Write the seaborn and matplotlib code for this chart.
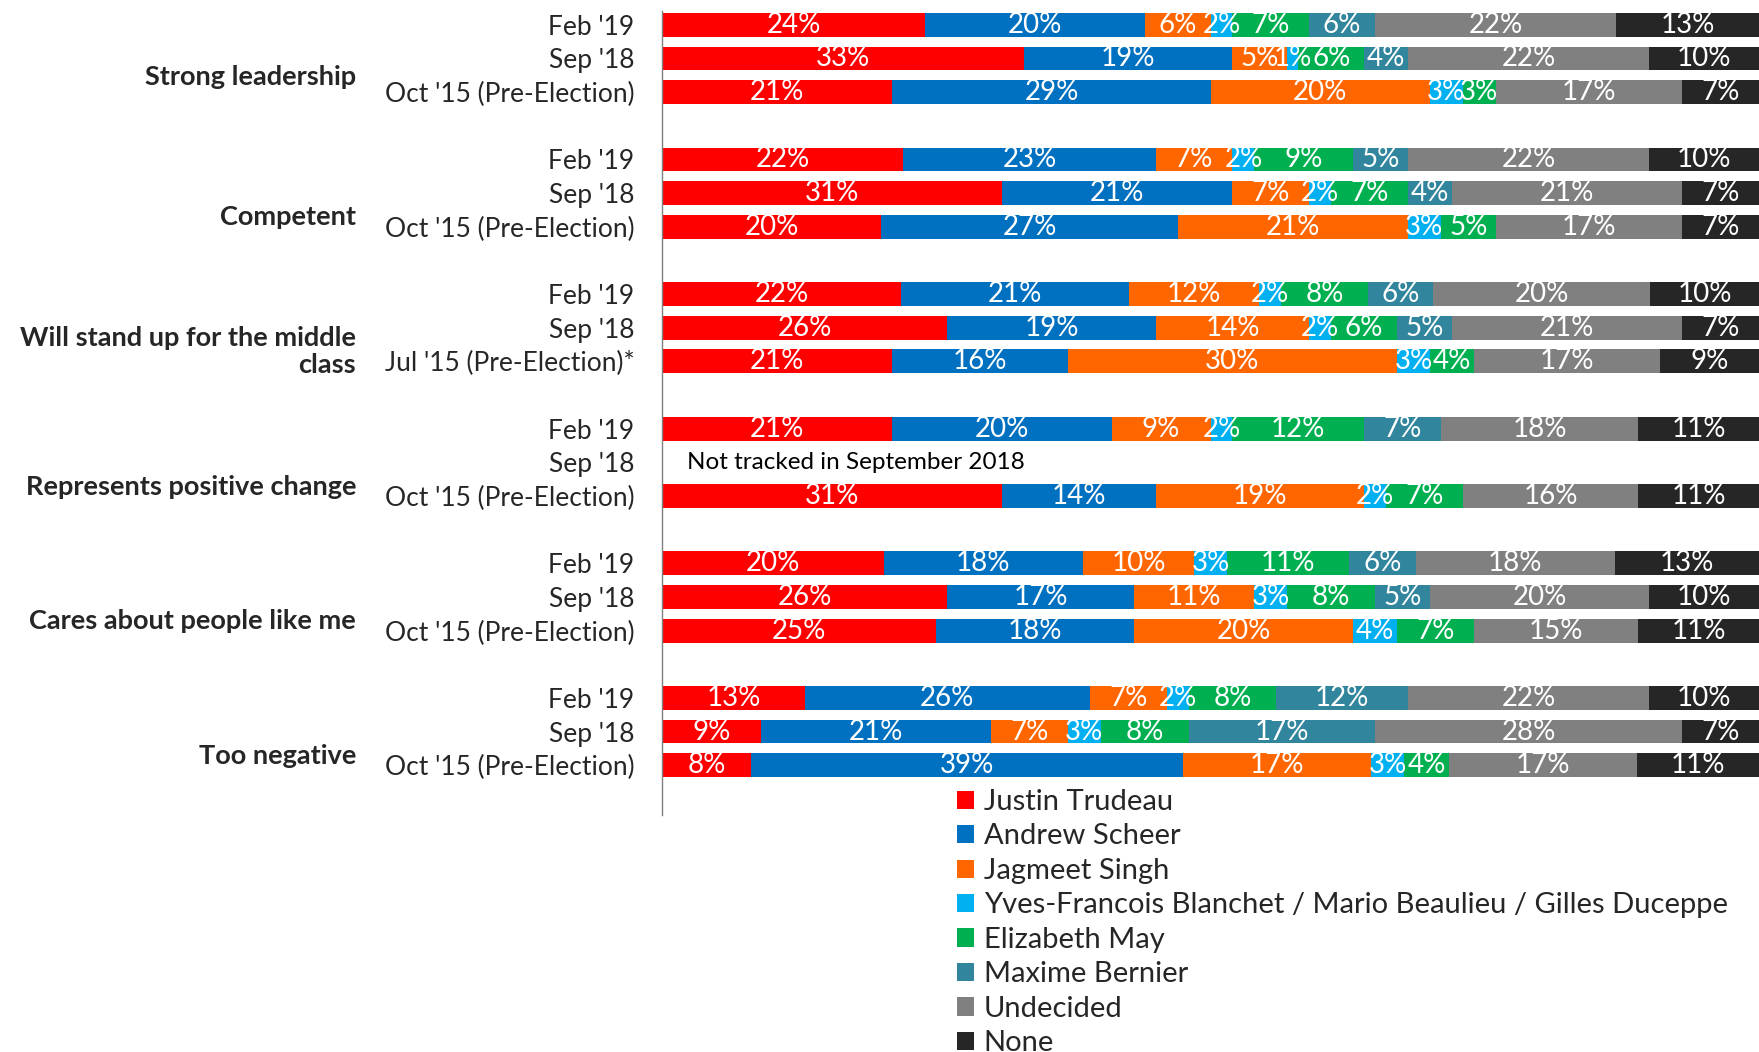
import numpy as np
import pandas as pd
import matplotlib.pyplot as plt
import seaborn as sns

sns.set_style('white')
plt.rcParams['font.family'] = ['Lato', 'DejaVu Sans']

candidates = ['Justin Trudeau', 'Andrew Scheer', 'Jagmeet Singh',
              'Yves-Francois Blanchet / Mario Beaulieu / Gilles Duceppe',
              'Elizabeth May', 'Maxime Bernier', 'Undecided', 'None']
colors = ['#FF0000', '#0070C0', '#FF6600', '#00B0F0',
          '#00B050', '#31859C', '#808080', '#262626']

groups = ['Strong leadership', 'Competent', 'Will stand up for the middle\nclass',
          'Represents positive change', 'Cares about people like me', 'Too negative']
waves = ["Feb '19", "Sep '18", "Oct '15 (Pre-Election)"]
waves_middle = ["Feb '19", "Sep '18", "Jul '15 (Pre-Election)*"]

# one list per wave: Feb '19, Sep '18, Oct/Jul '15 (None = not tracked)
strong_leadership = [[24, 20, 6, 2, 7, 6, 22, 13],
                     [33, 19, 5, 1, 6, 4, 22, 10],
                     [21, 29, 20, 3, 3, 0, 17, 7]]
competent = [[22, 23, 7, 2, 9, 5, 22, 10],
             [31, 21, 7, 2, 7, 4, 21, 7],
             [20, 27, 21, 3, 5, 0, 17, 7]]
middle_class = [[22, 21, 12, 2, 8, 6, 20, 10],
                [26, 19, 14, 2, 6, 5, 21, 7],
                [21, 16, 30, 3, 4, 0, 17, 9]]
positive_change = [[21, 20, 9, 2, 12, 7, 18, 11],
                   None,
                   [31, 14, 19, 2, 7, 0, 16, 11]]
cares = [[20, 18, 10, 3, 11, 6, 18, 13],
         [26, 17, 11, 3, 8, 5, 20, 10],
         [25, 18, 20, 4, 7, 0, 15, 11]]
too_negative = [[13, 26, 7, 2, 8, 12, 22, 10],
                [9, 21, 7, 3, 8, 17, 28, 7],
                [8, 39, 17, 3, 4, 0, 17, 11]]
all_values = [strong_leadership, competent, middle_class,
              positive_change, cares, too_negative]

# build long table, one key per bar row, gap keys between groups
rows = []
order = []
tick_labels = []
for gi, group_vals in enumerate(all_values):
    wl = waves_middle if gi == 2 else waves
    for wi, vals in enumerate(group_vals):
        key = f'{gi}-{wi}'
        order.append(key)
        tick_labels.append(wl[wi])
        if vals is None:
            continue
        total = sum(vals)
        for ci, v in enumerate(vals):
            rows.append({'key': key, 'cand': ci, 'value': v, 'pct': v / total * 100})
    if gi < len(all_values) - 1:
        order.append(f'gap{gi}')
        tick_labels.append('')
df = pd.DataFrame(rows)
df['cum'] = df.groupby('key')['pct'].cumsum()

fig = plt.figure(figsize=(17.59, 10.52), dpi=100)
ax = fig.add_axes([0.3764, 0.2253, 0.6236, 0.7642])

# stacked bars: draw cumulative totals from the last segment backwards
for ci in reversed(range(len(candidates))):
    sub = df[df['cand'] == ci]
    sns.barplot(data=sub, x='cum', y='key', order=order, orient='y',
                color=colors[ci], saturation=1, width=0.71, linewidth=0,
                errorbar=None, label=candidates[ci], ax=ax)

handles, labels = ax.get_legend_handles_labels()
if ax.get_legend() is not None:
    ax.get_legend().remove()

pos = {k: i for i, k in enumerate(order)}
for _, r in df.iterrows():
    if r['value'] == 0:
        continue
    ax.text(r['cum'] - r['pct'] / 2, pos[r['key']], f"{r['value']:.0f}%",
            ha='center', va='center', color='white', fontsize=20,
            family=['Liberation Sans Narrow', 'Lato'])

ax.text(2.3, pos['3-1'], 'Not tracked in September 2018', ha='left', va='center',
        fontsize=17.5, color='black')

ax.set_xlim(0, 100)
ax.set_ylim(23.48, -0.41)
ax.set_yticks(range(len(order)))
ax.set_yticklabels(tick_labels, fontsize=19)
ax.tick_params(axis='y', length=0, pad=20)
ax.set_xticks([])
ax.set_xlabel('')
ax.set_ylabel('')
for s in ['top', 'right', 'bottom']:
    ax.spines[s].set_visible(False)
ax.spines['left'].set_color('#7f7f7f')
ax.spines['left'].set_linewidth(1)

offsets = [0.55, 0.72, 0.72, 0.72, 0.72, 0.72]
for gi, g in enumerate(groups):
    y = pos[f'{gi}-1'] + offsets[gi]
    ax.annotate(g, xy=(0, y), xycoords=('axes fraction', 'data'),
                xytext=(-306, 0), textcoords='offset pixels',
                ha='right', va='center', fontsize=19.5, fontweight='bold',
                linespacing=1.15)

fig.legend(handles[::-1], labels[::-1], loc='upper left',
           bbox_to_anchor=(0.544, 0.25), frameon=False, fontsize=21,
           handlelength=0.58, handleheight=0.58, handletextpad=0.34,
           labelspacing=0.29, borderpad=0, borderaxespad=0)

fig.savefig('out.png', dpi=100)
